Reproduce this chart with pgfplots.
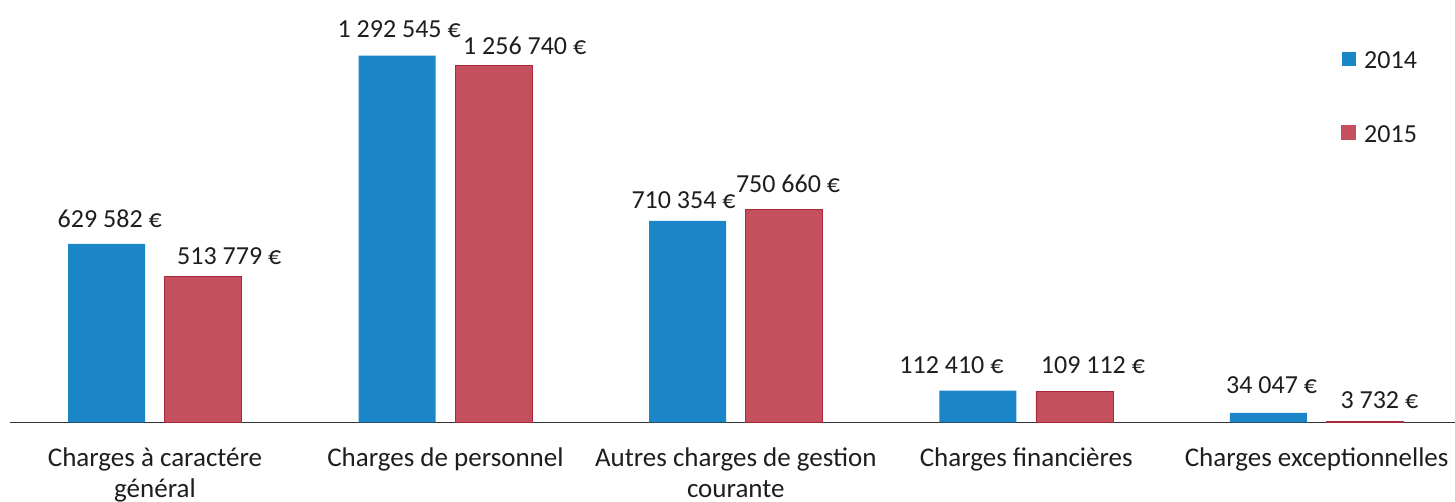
\documentclass[border=0pt]{standalone}
\usepackage{pgfplots}
\usepackage{pgfplotstable}
\pgfplotsset{compat=1.18}
\usepackage{fontspec}
\setmainfont{Carlito}
\definecolor{cblue}{RGB}{26,134,200}
\definecolor{cred}{RGB}{196,80,94}
\definecolor{cedge}{RGB}{170,40,60}
\definecolor{ctext}{RGB}{30,30,30}

\pgfplotstableread{
x y dx dy
0 629582 1.5 12.65
1 1292545 1 13.1
2 710354 -2 10.45
3 112410 -13.25 12.8
4 34047 1.6 13.9
}\tA
\pgfplotstableread{
x y dx dy
0 513779 13 10.1
1 1256740 15.5 10.15
2 750660 2 13
3 109112 9.25 13.25
4 3732 7.25 10.7
}\tB

\begin{document}
\begin{tikzpicture}
\useasboundingbox (0,0) rectangle (727.5pt,251pt);
\begin{axis}[
  at={(5pt,39.75pt)}, anchor=south west,
  scale only axis, width=722.5pt, height=211.25pt,
  xmin=-0.4993, xmax=4.4766, ymin=0, ymax=1488700,
  ybar=9.75pt, bar width=38.5pt,
  axis x line*=bottom, axis y line=none,
  x axis line style={draw=black!80, line width=0.8pt},
  xtick={0,1,2,3,4},
  xticklabels={{Charges à caractére\\général},{Charges de personnel},{Autres charges de gestion\\courante},{Charges financières},{Charges exceptionnelles}},
  major tick length=0pt,
  xticklabel style={align=center, yshift=-9pt, text=ctext, font=\fontsize{13.5}{15.5}\selectfont},
  font=\fontsize{13}{15.5}\selectfont,
  clip=false,
  /pgf/number format/fixed,
  /pgf/number format/precision=0,
  /pgf/number format/1000 sep={\ },
  /pgf/number format/assume math mode=true,
  nodes near coords={\pgfmathprintnumber{\pgfplotspointmeta}\ €},
  visualization depends on={\thisrow{dx} \as \dx},
  visualization depends on={\thisrow{dy} \as \dy},
  every node near coord/.append style={anchor=center, xshift=\dx pt, yshift=\dy pt, inner sep=0pt, text=ctext, font=\fontsize{13}{15.5}\selectfont},
  legend style={at={(0.9211,0.878)}, anchor=north west, draw=none, fill=none, inner sep=0pt, row sep=26.5pt, column sep=4pt, nodes={inner sep=0pt, anchor=west, text=ctext}, font=\fontsize{13}{15.5}\selectfont},
]
\addplot[fill=cblue, draw=none, legend image code/.code={\fill[cblue] (0pt,-2pt) rectangle (7pt,5pt);}] table[x=x,y=y] {\tA};
\addplot[fill=cred, draw=cedge, line width=0.4pt, legend image code/.code={\fill[cred] (0pt,-2pt) rectangle (7pt,5pt);}] table[x=x,y=y] {\tB};
\legend{2014,2015}
\end{axis}
\end{tikzpicture}
\end{document}
